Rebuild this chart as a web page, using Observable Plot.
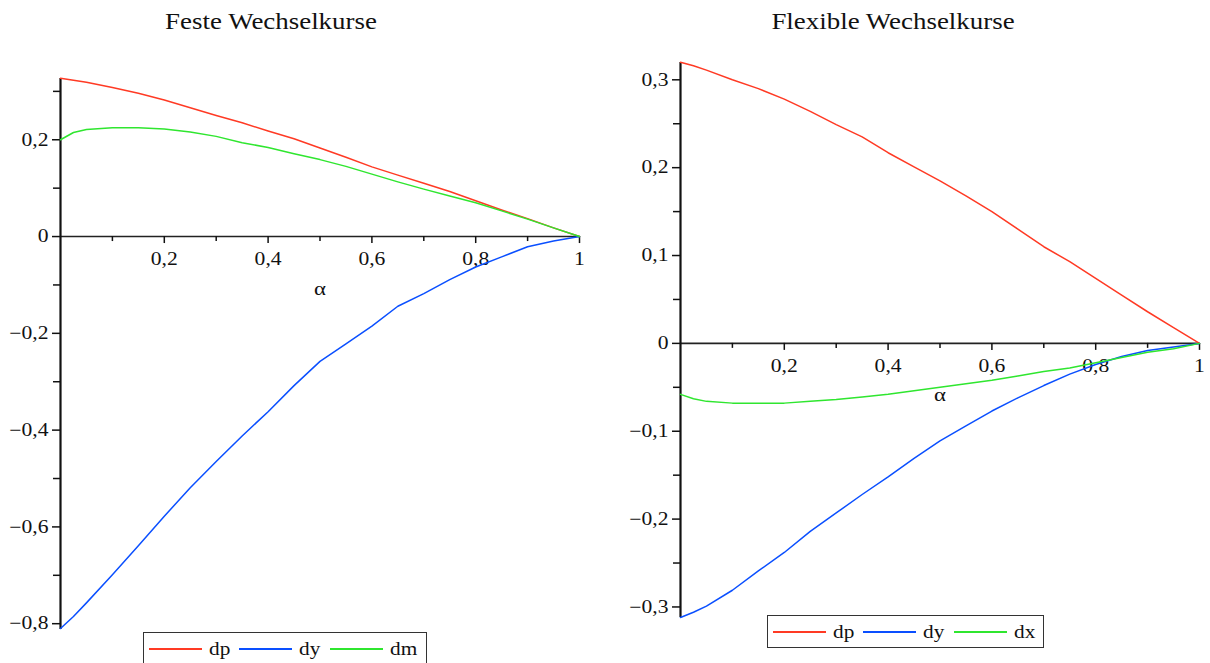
<!DOCTYPE html>
<html>
<head>
<meta charset="utf-8">
<script src="https://cdn.jsdelivr.net/npm/d3@7"></script>
<script src="https://cdn.jsdelivr.net/npm/@observablehq/plot@0.6"></script>
<style>
  html, body { margin: 0; padding: 0; background: #fff; }
  #wrap { position: relative; width: 1210px; height: 663px; overflow: hidden; font-family: "Liberation Serif", "Times New Roman", serif; color: #111; }
  .panel { position: absolute; top: 0; width: 605px; height: 663px; }
  .title { position: absolute; top: 9px; font-size: 23px; line-height: 26px; white-space: nowrap; transform: translateX(-50%) scaleX(1.17); transform-origin: center center; }
  .legend { position: absolute; height: 31px; border: 1.5px solid #333; background: #fff; display: flex; align-items: center; padding-left: 5px; box-sizing: content-box; }
  .item { display: flex; align-items: center; margin-right: 9px; }
  .swatch { width: 53px; height: 2px; margin-right: 7px; }
  .labbox { display: inline-block; }
  .lab { display: inline-block; font-size: 19px; line-height: 20px; transform: scaleX(1.12); transform-origin: left center; white-space: nowrap; }
</style>
</head>
<body>
<div id="wrap">
  <div class="panel" id="left"></div>
  <div class="panel" id="right" style="left:605px"></div>
</div>
<script>
// ---- data ----
const alpha = [0, 0.025, 0.05, 0.1, 0.15, 0.2, 0.25, 0.3, 0.35, 0.4, 0.45, 0.5, 0.55, 0.6, 0.65, 0.7, 0.75, 0.8, 0.85, 0.9, 0.95, 1];

const festeDp = [0.327, 0.323, 0.319, 0.308, 0.296, 0.282, 0.266, 0.250, 0.235, 0.218, 0.202, 0.183, 0.164, 0.144, 0.127, 0.110, 0.093, 0.074, 0.055, 0.037, 0.018, 0];
const festeDy = [-0.810, -0.785, -0.757, -0.699, -0.639, -0.578, -0.519, -0.465, -0.412, -0.362, -0.308, -0.258, -0.222, -0.185, -0.144, -0.118, -0.089, -0.063, -0.042, -0.021, -0.009, 0];
const festeDm = [0.200, 0.215, 0.221, 0.225, 0.225, 0.222, 0.216, 0.207, 0.194, 0.184, 0.171, 0.159, 0.145, 0.129, 0.113, 0.098, 0.084, 0.070, 0.053, 0.036, 0.018, 0];

const flexDp = [0.320, 0.316, 0.311, 0.300, 0.290, 0.278, 0.264, 0.249, 0.235, 0.217, 0.201, 0.185, 0.168, 0.150, 0.130, 0.110, 0.093, 0.074, 0.055, 0.036, 0.018, 0];
const flexDy = [-0.312, -0.306, -0.299, -0.281, -0.259, -0.238, -0.214, -0.193, -0.172, -0.152, -0.131, -0.111, -0.094, -0.077, -0.062, -0.048, -0.035, -0.024, -0.015, -0.008, -0.004, 0];
const flexDx = [-0.058, -0.063, -0.066, -0.068, -0.068, -0.068, -0.066, -0.064, -0.061, -0.058, -0.054, -0.050, -0.046, -0.042, -0.037, -0.032, -0.028, -0.022, -0.016, -0.010, -0.006, 0];

const festeNames = ["dp", "dy", "dm"];
const flexNames = ["dp", "dy", "dx"];
const festeTitle = "Feste Wechselkurse";
const flexTitle = "Flexible Wechselkurse";
const xLabel = "α";

const xDomain = [0, 1];
const xMajor = [0.2, 0.4, 0.6, 0.8, 1];
const xMinor = [0.1, 0.3, 0.5, 0.7, 0.9];
const festeYDomain = [-0.812, 0.3266];
const festeYMajor = [0.2, 0, -0.2, -0.4, -0.6, -0.8];
const festeYMinor = [0.3, 0.1, -0.1, -0.3, -0.5, -0.7];
const flexYDomain = [-0.312, 0.3197];
const flexYMajor = [0.3, 0.2, 0.1, 0, -0.1, -0.2, -0.3];
const flexYMinor = [0.25, 0.15, 0.05, -0.05, -0.15, -0.25];

const seriesColors = ["#ff3a24", "#0a4fff", "#2fe62f"];

// ---- drawing ----
const STRETCH = 1.2; // the reference's lettering is slightly widened
const fmt = d => (d < 0 ? "\u2212" : "") + String(+Math.abs(d).toFixed(2)).replace(".", ",");

function stretchText(svg) {
  svg.querySelectorAll("text").forEach(t => {
    const tr = t.getAttribute("transform");
    if (tr) {
      t.setAttribute("transform", tr + ` scale(${STRETCH},1)`);
    } else {
      const x = +t.getAttribute("x") || 0, y = +t.getAttribute("y") || 0;
      t.removeAttribute("x"); t.removeAttribute("y");
      t.setAttribute("transform", `translate(${x},${y}) scale(${STRETCH},1)`);
    }
  });
  return svg;
}

function makePanel(o) {
  const rows = o.names.flatMap((n, k) => alpha.map((a, i) => ({a, v: o.values[k][i], s: n})));
  const W = 605, H = 663;
  const plotH = H - o.mt - o.mb;
  const y0 = o.mt + (o.yDomain[1] / (o.yDomain[1] - o.yDomain[0])) * plotH;
  const dy = y0 - (H - o.mb);
  const mid = (xDomain[0] + xDomain[1]) / 2;
  const svg = Plot.plot({
    width: W, height: H,
    marginLeft: o.ml, marginRight: o.mr, marginTop: o.mt, marginBottom: o.mb,
    x: {domain: xDomain},
    y: {domain: o.yDomain},
    color: {domain: o.names, range: seriesColors},
    style: {fontFamily: "Liberation Serif, Times New Roman, serif", fontSize: "18px", color: "#111", background: "transparent", overflow: "visible"},
    marks: [
      Plot.ruleY([0], {stroke: "#222", strokeWidth: 1.6}),
      Plot.ruleX([xDomain[0]], {stroke: "#111", strokeWidth: 2.2}),
      Plot.axisY(o.yMajor, {tickSize: 8, tickPadding: 4, tickFormat: fmt, label: null, strokeWidth: 1.5}),
      Plot.axisY(o.yMinor, {tickSize: 7, tickFormat: () => "", label: null, strokeWidth: 1.5}),
      Plot.axisX(xMajor, {tickSize: 7, tickPadding: 9, tickFormat: fmt, label: null, strokeWidth: 1.5, dy}),
      Plot.axisX(xMinor, {tickSize: 5, tickFormat: () => "", label: null, strokeWidth: 1.5, dy}),
      Plot.line(rows, {x: "a", y: "v", z: "s", stroke: "s", strokeWidth: 1.5}),
      Plot.text([xLabel], {x: () => mid, y: () => 0, text: d => d, dy: 52, fontSize: 19})
    ]
  });
  return stretchText(svg);
}

function addTitle(host, text, cx) {
  const t = document.createElement("div");
  t.className = "title";
  t.style.left = cx + "px";
  t.textContent = text;
  host.appendChild(t);
}

function addLegend(host, names, left, top, width) {
  const lg = document.createElement("div");
  lg.className = "legend";
  lg.style.left = left + "px";
  lg.style.top = top + "px";
  lg.style.width = width + "px";
  host.appendChild(lg);
  names.forEach((n, i) => {
    const it = document.createElement("div");
    it.className = "item";
    const sw = document.createElement("div");
    sw.className = "swatch";
    sw.style.background = seriesColors[i];
    const box = document.createElement("span");
    box.className = "labbox";
    const lb = document.createElement("span");
    lb.className = "lab";
    lb.textContent = n;
    box.appendChild(lb);
    it.appendChild(sw); it.appendChild(box);
    lg.appendChild(it);
    box.style.width = (lb.getBoundingClientRect().width) + "px";
  });
}

const left = document.getElementById("left");
left.appendChild(makePanel({
  names: festeNames, values: [festeDp, festeDy, festeDm],
  yDomain: festeYDomain, yMajor: festeYMajor, yMinor: festeYMinor,
  ml: 60, mr: 26, mt: 78, mb: 34
}));
addTitle(left, festeTitle, 271);
addLegend(left, festeNames, 143, 632, 277);

const right = document.getElementById("right");
right.appendChild(makePanel({
  names: flexNames, values: [flexDp, flexDy, flexDx],
  yDomain: flexYDomain, yMajor: flexYMajor, yMinor: flexYMinor,
  ml: 75, mr: 11, mt: 62, mb: 46
}));
addTitle(right, flexTitle, 288);
addLegend(right, flexNames, 162, 615, 270);
</script>
</body>
</html>
